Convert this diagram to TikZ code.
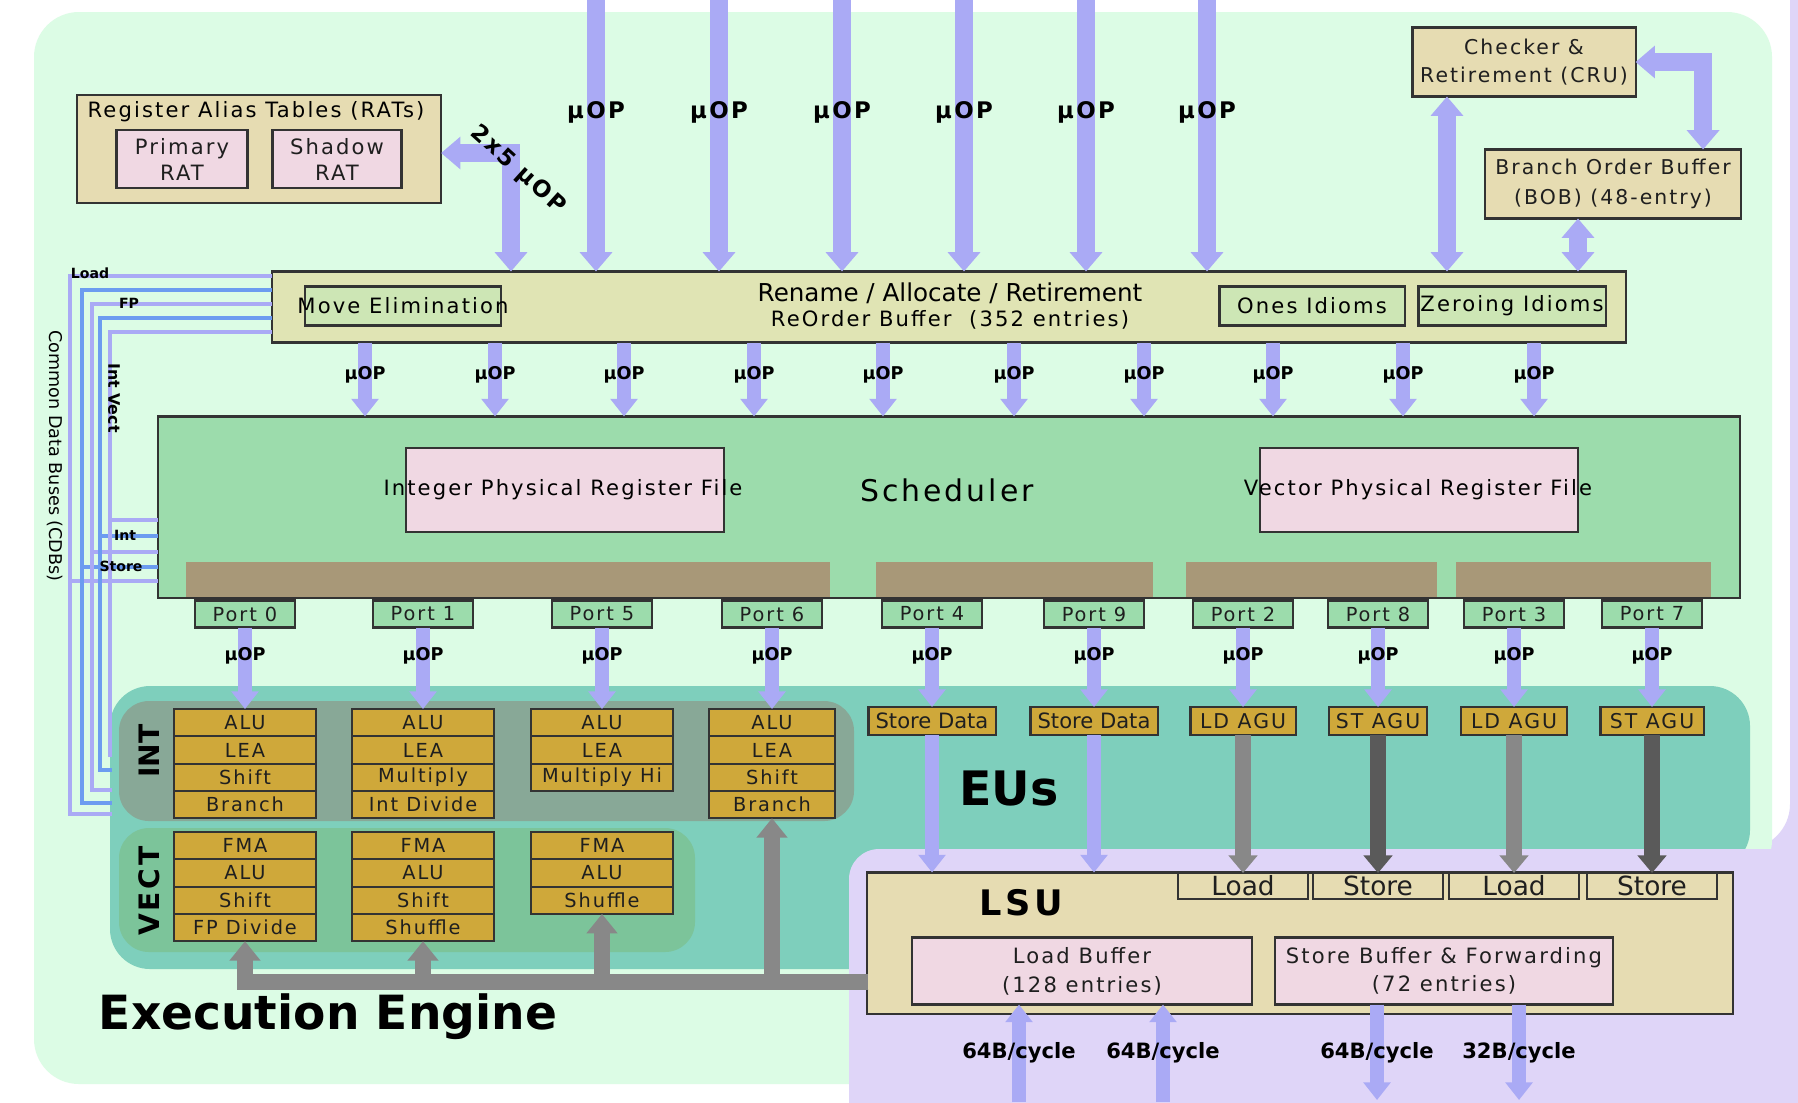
\documentclass[tikz,border=0pt]{standalone}
\usepackage{fontspec}
\setmainfont{DejaVu Sans}
\newfontfamily\spc{DejaVu Sans}[LetterSpace=10]
\usetikzlibrary{arrows.meta,positioning}

\definecolor{pagegreen}{HTML}{DCFCE5}
\definecolor{lsuback}{HTML}{DFD5F8}
\definecolor{eufill}{HTML}{7ECFBC}
\definecolor{intfill}{HTML}{88A897}
\definecolor{vectfill}{HTML}{7CC49A}
\definecolor{unitfill}{HTML}{CFA83A}
\definecolor{robfill}{HTML}{E0E4B4}
\definecolor{idiomfill}{HTML}{CDE6B5}
\definecolor{tanfill}{HTML}{E6DCB2}
\definecolor{pinkfill}{HTML}{F0D8E3}
\definecolor{schedfill}{HTML}{9CDCAC}
\definecolor{barfill}{HTML}{A89878}
\definecolor{uop}{HTML}{AAAAF5}
\definecolor{cdbblue}{HTML}{6C9CF0}
\definecolor{busgray}{HTML}{888888}
\definecolor{stgray}{HTML}{5A5A5A}
\definecolor{boxline}{HTML}{333333}

\newcommand\fsz[2]{\fontsize{#1}{#2}\selectfont}

\begin{document}
\begin{tikzpicture}[x=0.01cm,y=-0.01cm,
   box/.style={draw=boxline,line width=0.6pt,inner sep=0pt,outer sep=0pt,text=black!88},
   tanbox/.style={box,fill=tanfill},
   pinkbox/.style={box,fill=pinkfill},
   idiombox/.style={box,fill=idiomfill},
   portbox/.style={box,fill=schedfill,minimum width=1cm,minimum height=0.27cm,font=\spc\fsz{5.5}{6}},
   unitbox/.style={box,fill=unitfill,minimum height=0.273cm,font=\spc\fsz{5.5}{6}},
   eubox/.style={box,fill=unitfill,minimum height=0.28cm},
   boxtext/.style={inner sep=0pt,font=\spc\fsz{6}{7}},
   uoplabel/.style={inner sep=0pt,font=\bfseries\fsz{5}{6}},
   toplabel/.style={inner sep=0pt,font=\spc\bfseries\fsz{6.5}{7}},
   cdbtext/.style={inner sep=0pt,font=\bfseries\fsz{4}{5}},
   biguop/.style={draw=uop,line width=5pt,-{Triangle[width=9pt,length=5.5pt]}},
   smalluop/.style={draw=uop,line width=4pt,-{Triangle[width=7.5pt,length=5pt]}},
   twoway/.style={draw=uop,line width=5pt,{Triangle[width=9pt,length=5.5pt]}-{Triangle[width=9pt,length=5.5pt]}},
   ldpath/.style={draw=busgray,line width=4.5pt,-{Triangle[width=8pt,length=5pt]}},
   stpath/.style={draw=stgray,line width=4.5pt,-{Triangle[width=8pt,length=5pt]}},
   busline/.style={draw=busgray,line width=4.8pt,-{Triangle[width=8.5pt,length=5.5pt]}}]

\useasboundingbox (0,0) rectangle (1798,1102);

% backgrounds
\fill[white] (0,0) rectangle (1798,1102);
\fill[lsuback,rounded corners=0.45cm] (1790,-60) -- (1790,849) -- (849,849) -- (849,1160) -- (1860,1160) -- (1860,-60) -- cycle;
\fill[pagegreen,rounded corners=0.45cm] (34,12) -- (1772,12) -- (1772,885) -- (900,885) -- (900,1084) -- (34,1084) -- cycle;
\fill[eufill,rounded corners=0.4cm] (110,686) -- (1750,686) -- (1750,870) -- (920,870) -- (920,969) -- (110,969) -- cycle;
\fill[lsuback] (849,1160) [rounded corners=0.3cm] -- (849,849) -- (1860,849) [sharp corners] -- (1860,1160) -- cycle;
\fill[intfill,rounded corners=0.3cm] (119,701) rectangle (854,821);
\fill[vectfill,rounded corners=0.3cm] (119,828) rectangle (695,952);

% register alias tables
\node[tanbox,minimum width=3.64cm,minimum height=1.08cm] (rat) at (259,149) {};
\node[boxtext,font=\spc\fsz{6}{7}] at (256,112) {Register Alias Tables (RATs)};
\node[pinkbox,minimum width=1.31cm,minimum height=0.58cm,align=center,font=\spc\fsz{6}{7.4}] (prat) at (182,159) {Primary\\RAT};
\node[pinkbox,minimum width=1.29cm,minimum height=0.58cm,align=center,font=\spc\fsz{6}{7.4}] (srat) at (337,159) {Shadow\\RAT};

% retirement
\node[tanbox,minimum width=2.23cm,minimum height=0.69cm,align=center,font=\spc\fsz{5.8}{8}] (cru) at (1524,62) {Checker \&\\Retirement (CRU)};
\node[tanbox,minimum width=2.56cm,minimum height=0.69cm,align=center,font=\spc\fsz{5.8}{8.5}] (bob) at (1613,184) {Branch Order Buffer\\(BOB) (48-entry)};

% rename / allocate / retirement
\node[box,fill=robfill,minimum width=13.53cm,minimum height=0.71cm] (rob) at (949,307) {};
\node[idiombox,minimum width=1.96cm,minimum height=0.39cm] (move) at (403,306) {};
\node[idiombox,minimum width=1.85cm,minimum height=0.39cm] (ones) at (1312,306) {};
\node[idiombox,minimum width=1.87cm,minimum height=0.39cm] (zero) at (1512,306) {};
\node[boxtext] at (move) {Move Elimination};
\node[boxtext] at (ones) {Ones Idioms};
\node[boxtext] at (zero) {Zeroing Idioms};
\node[inner sep=0pt,font=\fsz{7}{8}] at (950,293) {Rename / Allocate / Retirement};
\node[boxtext] at (950,320) {ReOrder Buffer~~(352 entries)};

% scheduler
\node[box,fill=schedfill,minimum width=15.81cm,minimum height=1.81cm] (sched) at (949,507) {};
\fill[barfill] (186,562) rectangle (830,597);
\fill[barfill] (876,562) rectangle (1153,597);
\fill[barfill] (1186,562) rectangle (1437,597);
\fill[barfill] (1456,562) rectangle (1711,597);
\node[pinkbox,minimum width=3.17cm,minimum height=0.84cm] (iprf) at (565,490) {};
\node[pinkbox,minimum width=3.17cm,minimum height=0.84cm] (vprf) at (1419,490) {};
\node[boxtext] at (563,490) {Integer Physical Register File};
\node[boxtext] at (1418,490) {Vector Physical Register File};
\node[inner sep=0pt,font=\spc\fsz{8.5}{10}] at (947,490) {Scheduler};

\foreach \p/\x in {0/245,1/423,5/602,6/772,4/932,9/1094,2/1243,8/1378,3/1514,7/1652}
  \node[portbox] (port\p) at (\x,614) {Port \p};

% execution units
\foreach \x/\w/\list [count=\c] in {245/1.42cm/{ALU,LEA,Shift,Branch},423/1.42cm/{ALU,LEA,Multiply,Int Divide},602/1.42cm/{ALU,LEA,Multiply Hi},772/1.26cm/{ALU,LEA,Shift,Branch}}
  \foreach \u [count=\r] in \list
    \node[unitbox,minimum width=\w] (int\c-\r) at (\x,{709+27.3*(\r-0.5)}) {\u};
\foreach \x/\list [count=\c] in {245/{FMA,ALU,Shift,FP Divide},423/{FMA,ALU,Shift,Shuffle},602/{FMA,ALU,Shuffle}}
  \foreach \u [count=\r] in \list
    \node[unitbox,minimum width=1.42cm] (vec\c-\r) at (\x,{832+27.3*(\r-0.5)}) {\u};

\node[eubox,minimum width=1.27cm,font=\fsz{6}{7}] (sd1) at (932,721) {Store Data};
\node[eubox,minimum width=1.27cm,font=\fsz{6}{7}] (sd2) at (1094,721) {Store Data};
\node[eubox,minimum width=1.05cm,font=\spc\fsz{5.8}{7}] (agu2) at (1243,721) {LD AGU};
\node[eubox,minimum width=0.98cm,font=\spc\fsz{5.8}{7}] (agu8) at (1378,721) {ST AGU};
\node[eubox,minimum width=1.06cm,font=\spc\fsz{5.8}{7}] (agu3) at (1514,721) {LD AGU};
\node[eubox,minimum width=1.03cm,font=\spc\fsz{5.8}{7}] (agu7) at (1652,721) {ST AGU};

\node[rotate=90,inner sep=0pt,font=\bfseries\fsz{8}{9}] at (149,751) {INT};
\node[rotate=90,inner sep=0pt,font=\spc\bfseries\fsz{8}{9}] at (149,891) {VECT};
\node[inner sep=0pt,font=\bfseries\fsz{13.5}{15}] at (1009,789) {EUs};
\node[inner sep=0pt,font=\bfseries\fsz{13.4}{15}] at (328,1017) {Execution Engine};

% load / store unit
\node[tanbox,minimum width=8.66cm,minimum height=1.41cm] (lsu) at (1300,943) {};
\foreach \n/\x/\t in {ld1/1243/Load,st1/1378/Store,ld2/1514/Load,st2/1652/Store}
  \node[tanbox,minimum width=1.3cm,minimum height=0.26cm,font=\fsz{7.5}{8}] (\n) at (\x,886) {\t};
\node[inner sep=0pt,font=\spc\bfseries\fsz{10}{12}] at (1021,903) {LSU};
\node[pinkbox,minimum width=3.39cm,minimum height=0.67cm,align=center,font=\spc\fsz{6}{8.2}] (lb) at (1082,971) {Load Buffer\\(128 entries)};
\node[pinkbox,minimum width=3.38cm,minimum height=0.67cm,align=center,font=\spc\fsz{6}{8}] (sb) at (1444,971) {Store Buffer \& Forwarding\\(72 entries)};

% micro-op arrows
\coordinate (topedge) at (0,0);
\foreach \x in {596,719,842,964,1086,1207} {
  \coordinate (lab) at (\x,112);
  \draw[biguop] (lab |- topedge) -- (lab |- rob.north);
  \node[toplabel] at (lab) {µOP};
}
\coordinate (ratin) at (511,153);
\draw[twoway] (rat.east |- ratin) -| (ratin |- rob.north);
\node[rotate=-42,toplabel] at (518,170) {2x5 µOP};

\draw[twoway] ([xshift=-0.77cm]cru.south) -- ([xshift=-0.77cm]cru.south |- rob.north);
\draw[twoway] (cru.east) -| ([xshift=0.9cm]bob.north);
\draw[twoway] ([xshift=-0.35cm]bob.south) -- ([xshift=-0.35cm]bob.south |- rob.north);

\foreach \x in {365,495,624,754,883,1014,1144,1273,1403,1534} {
  \coordinate (lab) at (\x,375);
  \draw[smalluop] (lab |- rob.south) -- (lab |- sched.north);
  \node[uoplabel] at (lab) {µOP};
}

\coordinate (uoprow) at (0,656);
\foreach \p/\t in {0/int1-1,1/int2-1,5/int3-1,6/int4-1,4/sd1,9/sd2,2/agu2,8/agu8,3/agu3,7/agu7} {
  \draw[smalluop] (port\p.south) -- (\t.north);
  \node[uoplabel] at (port\p.south |- uoprow) {µOP};
}

\draw[smalluop] (sd1.south) -- (sd1.south |- lsu.north);
\draw[smalluop] (sd2.south) -- (sd2.south |- lsu.north);
\draw[ldpath] (agu2.south) -- (ld1.north);
\draw[stpath] (agu8.south) -- (st1.north);
\draw[ldpath] (agu3.south) -- (ld2.north);
\draw[stpath] (agu7.south) -- (st2.north);

% result bus back to the units
\coordinate (busend) at (868,982);
\draw[busline] (busend) -| (vec1-4.south);
\draw[busline] (busend) -| (vec2-4.south);
\draw[busline] (busend) -| (vec3-3.south);
\draw[busline] (busend) -| (int4-4.south);

% memory side
\coordinate (cyc) at (0,1053);
\coordinate (m1) at (1019,1102);
\coordinate (m2) at (1163,1102);
\coordinate (m3) at (1377,1100);
\coordinate (m4) at (1519,1100);
\draw[smalluop] (m1) -- (m1 |- lb.south);
\draw[smalluop] (m2) -- (m2 |- lb.south);
\draw[smalluop] (m3 |- sb.south) -- (m3);
\draw[smalluop] (m4 |- sb.south) -- (m4);
\foreach \m/\t in {m1/64B,m2/64B,m3/64B,m4/32B}
  \node[inner sep=0pt,font=\bfseries\fsz{6}{7}] at (\m |- cyc) {\t/cycle};

% common data buses
\foreach \x/\ya/\yb/\ys/\c in {70/276/814/581/uop,82/290/803/567/cdbblue,92/304/790/552/uop,100/318/770/536/cdbblue,110/332/755/520/uop} {
  \draw[\c,line width=0.9pt] (rob.west |- 0,\ya) -| (\x,\yb) -- (112,\yb);
  \draw[\c,line width=0.9pt] (\x,\ys) -- (sched.west |- 0,\ys);
}
\node[cdbtext] at (90,273) {Load};
\node[cdbtext] at (129,303) {FP};
\node[cdbtext] at (125,535) {Int};
\node[cdbtext] at (121,566) {Store};
\node[cdbtext,rotate=-90,font=\bfseries\fsz{4.5}{5}] at (114,398) {Int Vect};
\node[inner sep=0pt,rotate=-90,font=\fsz{5}{6}] at (55,456) {Common Data Buses (CDBs)};

\end{tikzpicture}
\end{document}
